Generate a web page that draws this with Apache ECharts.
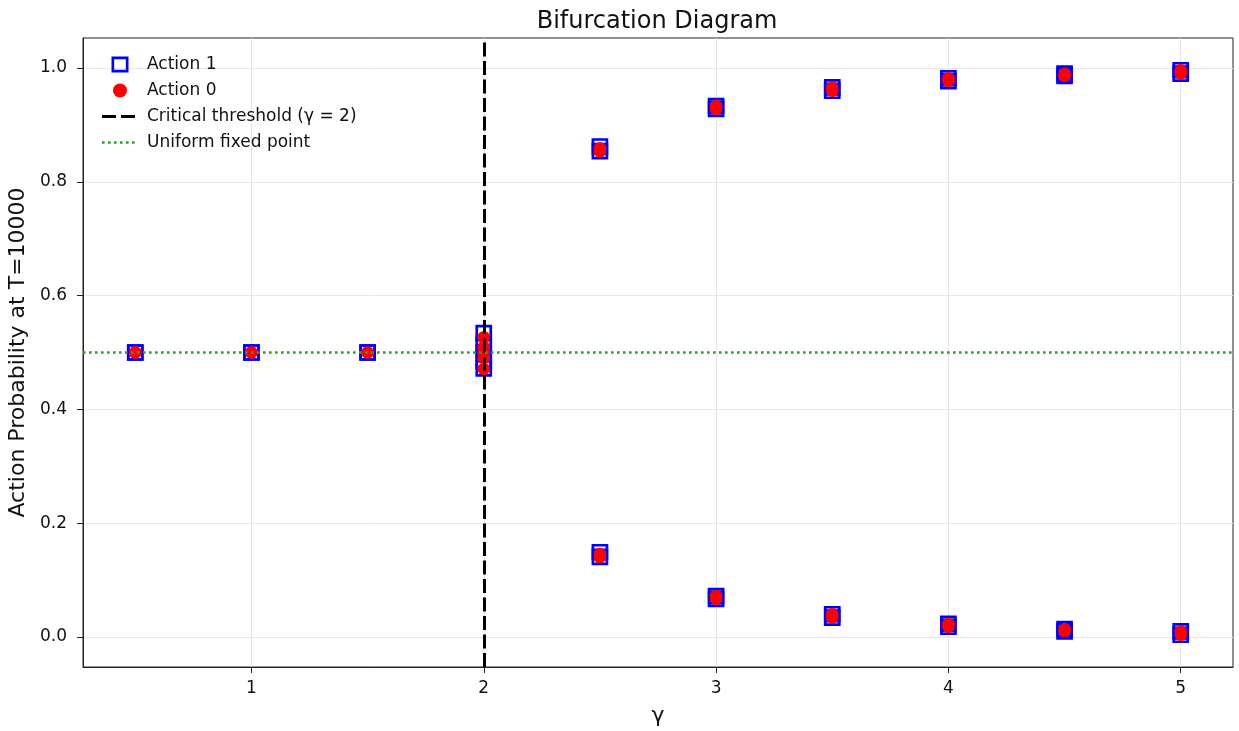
<!DOCTYPE html>
<html>
<head>
<meta charset="utf-8">
<script src="https://cdn.jsdelivr.net/npm/echarts@6/dist/echarts.min.js"></script>
<style>html,body{margin:0;padding:0;background:#fff}#c{width:1239px;height:731px}</style>
</head>
<body>
<div id="c"></div>
<script>
// gamma values; several runs end at each gamma
const gammas = [0.5, 1.0, 1.5, 2.0, 2.5, 3.0, 3.5, 4.0, 4.5, 5.0];
const action1Runs = [
  [0.5, 0.5],
  [0.5, 0.5],
  [0.5, 0.5],
  [0.534, 0.515, 0.500, 0.485, 0.472],
  [0.862, 0.854, 0.149, 0.141],
  [0.933, 0.928, 0.072, 0.067],
  [0.966, 0.960, 0.040, 0.034],
  [0.982, 0.977, 0.023, 0.018],
  [0.990, 0.986, 0.014, 0.010],
  [0.996, 0.990, 0.010, 0.004]
];
const action0Runs = [
  [0.5, 0.5],
  [0.5, 0.5],
  [0.5, 0.5],
  [0.527, 0.510, 0.500, 0.490, 0.471],
  [0.146, 0.140, 0.859, 0.853],
  [0.072, 0.067, 0.933, 0.928],
  [0.040, 0.034, 0.966, 0.960],
  [0.023, 0.018, 0.982, 0.977],
  [0.014, 0.010, 0.990, 0.986],
  [0.010, 0.004, 0.996, 0.990]
];
const criticalGamma = 2;
const uniformPoint = 0.5;
const xTicks = [1, 2, 3, 4, 5];
const yTicks = [0.0, 0.2, 0.4, 0.6, 0.8, 1.0];
const legendNames = ['Action 1', 'Action 0', 'Critical threshold (γ = 2)', 'Uniform fixed point'];

function pairs(runs) {
  const out = [];
  gammas.forEach((g, i) => runs[i].forEach(v => out.push([g, v])));
  return out;
}

const B = 'M0,0 M40,16 ';
const icons = {
  square: 'path://' + B + 'M9.5,0H26.5V16H9.5Z M12.2,2.7V13.3H23.8V2.7Z',
  circle: 'path://' + B + 'M11,8A7,7 0 1,0 25,8A7,7 0 1,0 11,8Z',
  dashed: 'path://' + B + 'M0,6.5H14V9.5H0Z M19,6.5H33V9.5H19Z',
  dotted: 'path://' + B + 'M0,6.7H2.6V9.3H0Z M6,6.7H8.6V9.3H6Z M12,6.7H14.6V9.3H12Z M18,6.7H20.6V9.3H18Z M24,6.7H26.6V9.3H24Z M30,6.7H32.6V9.3H30Z'
};

const chart = echarts.init(document.getElementById('c'), null, {renderer: 'canvas'});
const font = 'DejaVu Sans';
chart.setOption({
  animation: false,
  backgroundColor: '#fff',
  title: {
    text: 'Bifurcation Diagram', left: 652, top: 5, textAlign: 'center',
    textStyle: {fontFamily: font, fontSize: 24, fontWeight: 'normal', color: '#111'}
  },
  legend: {
    orient: 'vertical', left: 97, top: 51, itemWidth: 40, itemHeight: 16, itemGap: 9,
    textStyle: {fontFamily: font, fontSize: 17, color: '#111'},
    data: [
      {name: legendNames[0], icon: icons.square, itemStyle: {color: '#0000ff', borderWidth: 0, opacity: 1}},
      {name: legendNames[1], icon: icons.circle, itemStyle: {color: '#ff0000', borderWidth: 0, opacity: 1}},
      {name: legendNames[2], icon: icons.dashed, itemStyle: {color: '#000000', borderWidth: 0, opacity: 1}},
      {name: legendNames[3], icon: icons.dotted, itemStyle: {color: '#2ca02c', borderWidth: 0, opacity: 1}}
    ]
  },
  grid: {left: 83, right: 6, top: 38, bottom: 64, outerBoundsMode: 'none',
    show: true, borderColor: '#222', borderWidth: 1},
  xAxis: {
    type: 'value', min: 0.275, max: 5.225,
    name: 'γ', nameLocation: 'middle', nameGap: 38,
    nameTextStyle: {fontFamily: font, fontSize: 22, color: '#111'},
    axisLine: {show: true, onZero: false, lineStyle: {color: '#222'}},
    axisTick: {show: true, customValues: xTicks, length: 6, lineStyle: {color: '#222'}},
    axisLabel: {customValues: xTicks, fontFamily: font, fontSize: 17, color: '#111', margin: 13},
    splitLine: {show: true, lineStyle: {color: '#e6e6e6', width: 1}}
  },
  yAxis: {
    type: 'value', min: -0.0527, max: 1.0527,
    name: 'Action Probability at T=10000', nameLocation: 'middle', nameGap: 43,
    nameTextStyle: {fontFamily: font, fontSize: 22, color: '#111'},
    axisLine: {show: true, onZero: false, lineStyle: {color: '#222'}},
    axisTick: {show: true, customValues: yTicks, length: 6, lineStyle: {color: '#222'}},
    axisLabel: {customValues: yTicks, fontFamily: font, fontSize: 17, color: '#111', margin: 16,
      formatter: v => v.toFixed(1)},
    splitLine: {show: true, lineStyle: {color: '#e6e6e6', width: 1}}
  },
  series: [
    {
      name: legendNames[0], type: 'scatter', symbol: 'rect', symbolSize: 14,
      itemStyle: {color: 'rgba(0,0,0,0)', borderColor: '#0000ff', borderWidth: 2.7, opacity: 1},
      data: pairs(action1Runs), z: 2
    },
    {
      name: legendNames[1], type: 'scatter', symbol: 'circle', symbolSize: 12.5,
      itemStyle: {color: '#ff0000', opacity: 1},
      data: pairs(action0Runs), z: 3
    },
    {
      name: legendNames[2], type: 'line', data: [], symbol: 'none',
      lineStyle: {color: '#000', width: 3, type: [14, 4.5]},
      itemStyle: {color: '#000'},
      markLine: {
        silent: true, symbol: 'none', animation: false,
        label: {show: false},
        lineStyle: {color: '#000', width: 3, type: [14, 4.5]},
        data: [{xAxis: criticalGamma}]
      }, z: 5
    },
    {
      name: legendNames[3], type: 'line', data: [], symbol: 'none',
      lineStyle: {color: '#2ca02c', width: 2.6, type: [2.6, 3.4]},
      itemStyle: {color: '#2ca02c'},
      markLine: {
        silent: true, symbol: 'none', animation: false,
        label: {show: false},
        lineStyle: {color: '#2ca02c', width: 2.6, type: [2.6, 3.4]},
        data: [{yAxis: uniformPoint}]
      }, z: 4
    }
  ]
});
</script>
</body>
</html>
